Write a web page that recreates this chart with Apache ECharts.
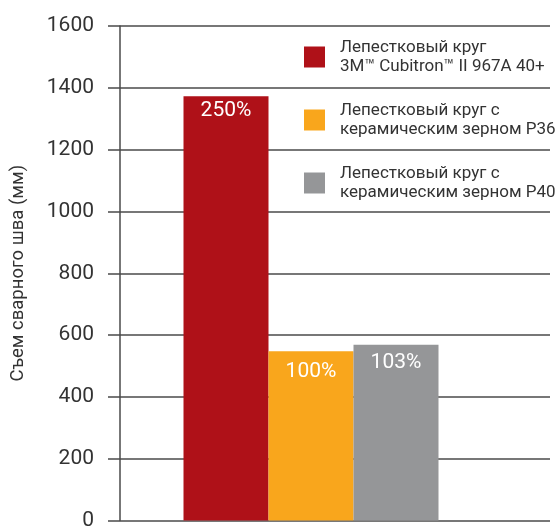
<!DOCTYPE html>
<html>
<head>
<meta charset="utf-8">
<script src="https://cdn.jsdelivr.net/npm/echarts@6/dist/echarts.min.js"></script>
<style>
html,body{margin:0;padding:0;background:#fff;}
#chart{width:559px;height:531px;}
</style>
</head>
<body>
<div id="chart"></div>
<script>
const categories = [''];
const seriesNames = [
  'Лепестковый круг\n3M™ Cubitron™ II 967A 40+',
  'Лепестковый круг с\nкерамическим зерном P36',
  'Лепестковый круг с\nкерамическим зерном P40'
];
const seriesValues = [[1373], [548], [569]];
const seriesLabels = ['250%', '100%', '103%'];
const seriesColors = ['#AF1118', '#F9A61C', '#959698'];
const yTicks = [0, 200, 400, 600, 800, 1000, 1200, 1400, 1600];
const yAxisName = 'Съем сварного шва (мм)';

const FONT = "'Liberation Sans Narrow', 'Roboto', sans-serif";
const LINE = '#4a4a4a';
const labelDist = [4, 10, 8];

const chart = echarts.init(document.getElementById('chart'));
const series = seriesNames.map((n, i) => ({
  name: n,
  type: 'bar',
  data: seriesValues[i],
  barWidth: 85,
  barGap: '0%',
  itemStyle: { color: seriesColors[i] },
  label: {
    show: true,
    position: 'insideTop',
    distance: labelDist[i],
    formatter: () => seriesLabels[i],
    color: '#fff',
    fontFamily: FONT,
    fontSize: 21
  }
}));
// spacer that reserves empty room to the right of the bar group
series.push({
  name: 'spacer',
  type: 'bar',
  data: ['-'],
  barWidth: 48,
  barGap: '0%',
  silent: true,
  itemStyle: { color: 'transparent' }
});

chart.setOption({
  animation: false,
  textStyle: { fontFamily: FONT },
  grid: { left: 120, right: 9, top: 26, bottom: 7, containLabel: false },
  legend: {
    data: seriesNames,
    orient: 'vertical',
    left: 304,
    top: 38,
    padding: 0,
    itemWidth: 21,
    itemHeight: 21,
    itemGap: 25,
    icon: 'rect',
    selectedMode: false,
    textStyle: {
      fontFamily: FONT,
      fontSize: 17,
      lineHeight: 19,
      color: '#333',
      padding: [0, 0, 0, 10]
    }
  },
  xAxis: {
    type: 'category',
    data: categories,
    axisLine: { show: false },
    axisTick: { show: false },
    axisLabel: { show: false },
    splitLine: { show: false }
  },
  yAxis: {
    type: 'value',
    min: yTicks[0],
    max: yTicks[yTicks.length - 1],
    interval: yTicks[1] - yTicks[0],
    name: yAxisName,
    nameLocation: 'middle',
    nameGap: 92,
    nameTextStyle: { fontFamily: FONT, fontSize: 18.5, color: '#333' },
    axisLine: { show: true, lineStyle: { color: LINE, width: 1.5 } },
    axisTick: { show: true, length: 12, lineStyle: { color: LINE, width: 1.5 } },
    splitLine: { show: true, lineStyle: { color: LINE, width: 1.5 } },
    axisLabel: {
      fontFamily: FONT,
      fontSize: 21,
      color: '#333',
      margin: 26,
      formatter: v => String(v)
    }
  },
  series: series
});
</script>
</body>
</html>
